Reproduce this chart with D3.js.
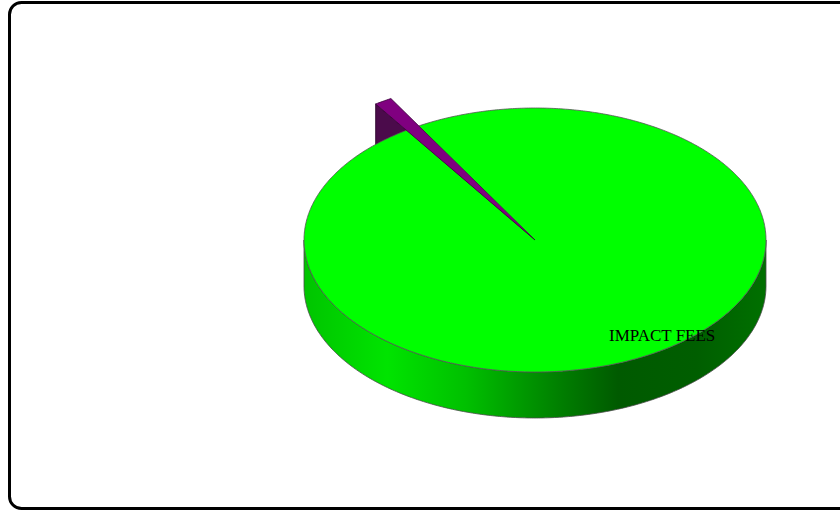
<!DOCTYPE html>
<html>
<head>
<meta charset="utf-8">
<script src="https://cdn.jsdelivr.net/npm/d3@7"></script>
<style>
  html, body { margin: 0; padding: 0; background: #fff; }
  svg { display: block; }
</style>
</head>
<body>
<svg id="chart" width="840" height="510"></svg>
<script>
// ---- data ----
const categories = ["IMPACT FEES", "OTHER"];
const values = [99, 1];
const labelsShown = ["IMPACT FEES", ""];
const sliceColors = ["#00ff00", "#800080"];

// ---- layout ----
const W = 840, H = 510;
const cx = 535, cy = 240, rx = 231, ry = 132, depth = 46;
const startDeg = -30.2;

const svg = d3.select("#chart");

// frame
svg.append("rect")
  .attr("x", 9.5).attr("y", 2.5)
  .attr("width", 850).attr("height", 506)
  .attr("rx", 12).attr("ry", 12)
  .attr("fill", "#fff").attr("stroke", "#000").attr("stroke-width", 3);

const defs = svg.append("defs");
const grad = defs.append("linearGradient").attr("id", "gside")
  .attr("gradientUnits", "userSpaceOnUse")
  .attr("x1", cx - rx).attr("x2", cx + rx).attr("y1", 0).attr("y2", 0);
[[0, "#00c400"], [0.18, "#00e400"], [0.35, "#00c000"], [0.55, "#008000"], [0.68, "#005a00"], [0.85, "#005e00"], [1, "#007000"]]
  .forEach(([o, c]) => grad.append("stop").attr("offset", o).attr("stop-color", c));

const pie = d3.pie().sort(null).value(d => d)
  .startAngle(startDeg * Math.PI / 180)
  .endAngle(startDeg * Math.PI / 180 + 2 * Math.PI);
const arcs = pie(values);

// projection of a pie-angle (0 = 12 o'clock, clockwise) into screen
const xs = d3.scaleLinear().domain([-1, 1]).range([cx - rx, cx + rx]);
const ys = d3.scaleLinear().domain([-1, 1]).range([cy - ry, cy + ry]);
function pt(a, k, z) { return [xs(k * Math.sin(a)), ys(-k * Math.cos(a)) + (z || 0)]; }
function arcPts(a0, a1, k, z) {
  const n = Math.max(2, Math.ceil(Math.abs(a1 - a0) / 0.01));
  return d3.range(n + 1).map(i => pt(a0 + (a1 - a0) * i / n, k, z));
}
const line = d3.line();

const radScale = [1, 1.24];
const g = svg.append("g");

// small slice: radial side face (drawn first, behind)
const small = arcs[1];
{
  const k = radScale[1];
  const o = pt(small.startAngle, k, 0), c = pt(0, 0, 0);
  g.append("path")
    .attr("d", line([c, o, [o[0], o[1] + depth], [c[0], c[1] + depth]]) + "Z")
    .attr("fill", "#4b0b4b").attr("stroke", "#2a002a").attr("stroke-width", 0.8);
}

// big slice side (front visible half)
const big = arcs[0];
{
  const a0 = Math.max(big.startAngle, Math.PI / 2), a1 = Math.min(big.endAngle, 3 * Math.PI / 2);
  const top = arcPts(a0, a1, 1, 0);
  const bot = arcPts(a1, a0, 1, depth);
  g.append("path").attr("d", line(top.concat(bot)) + "Z")
    .attr("fill", "url(#gside)").attr("stroke", "#4a4a4a").attr("stroke-width", 0.8);
}
// big slice top
{
  const pts = [pt(0, 0)].concat(arcPts(big.startAngle, big.endAngle, 1, 0));
  g.append("path").attr("d", line(pts) + "Z")
    .attr("fill", sliceColors[0]).attr("stroke", "none");
  g.append("path").attr("d", line(arcPts(big.startAngle, big.endAngle, 1, 0)))
    .attr("fill", "none").attr("stroke", "#555").attr("stroke-width", 0.8);
}
// small slice top
{
  const k = radScale[1];
  const pts = [pt(0, 0)].concat(arcPts(small.startAngle, small.endAngle, k, 0));
  g.append("path").attr("d", line(pts) + "Z")
    .attr("fill", sliceColors[1]).attr("stroke", "#3a003a").attr("stroke-width", 0.8)
    .attr("stroke-linejoin", "round");
}

// labels
arcs.forEach((d, i) => {
  if (!labelsShown[i]) return;
  const m = (d.startAngle + d.endAngle) / 2;
  svg.append("text")
    .attr("x", xs(1.039 * Math.sin(m)))
    .attr("y", ys(-0.856 * Math.cos(m)))
    .attr("text-anchor", "middle")
    .attr("dominant-baseline", "central")
    .attr("font-family", "'Liberation Serif', 'Times New Roman', serif")
    .attr("font-size", "17px")
    .attr("fill", "#000")
    .text(labelsShown[i]);
});
</script>
</body>
</html>
